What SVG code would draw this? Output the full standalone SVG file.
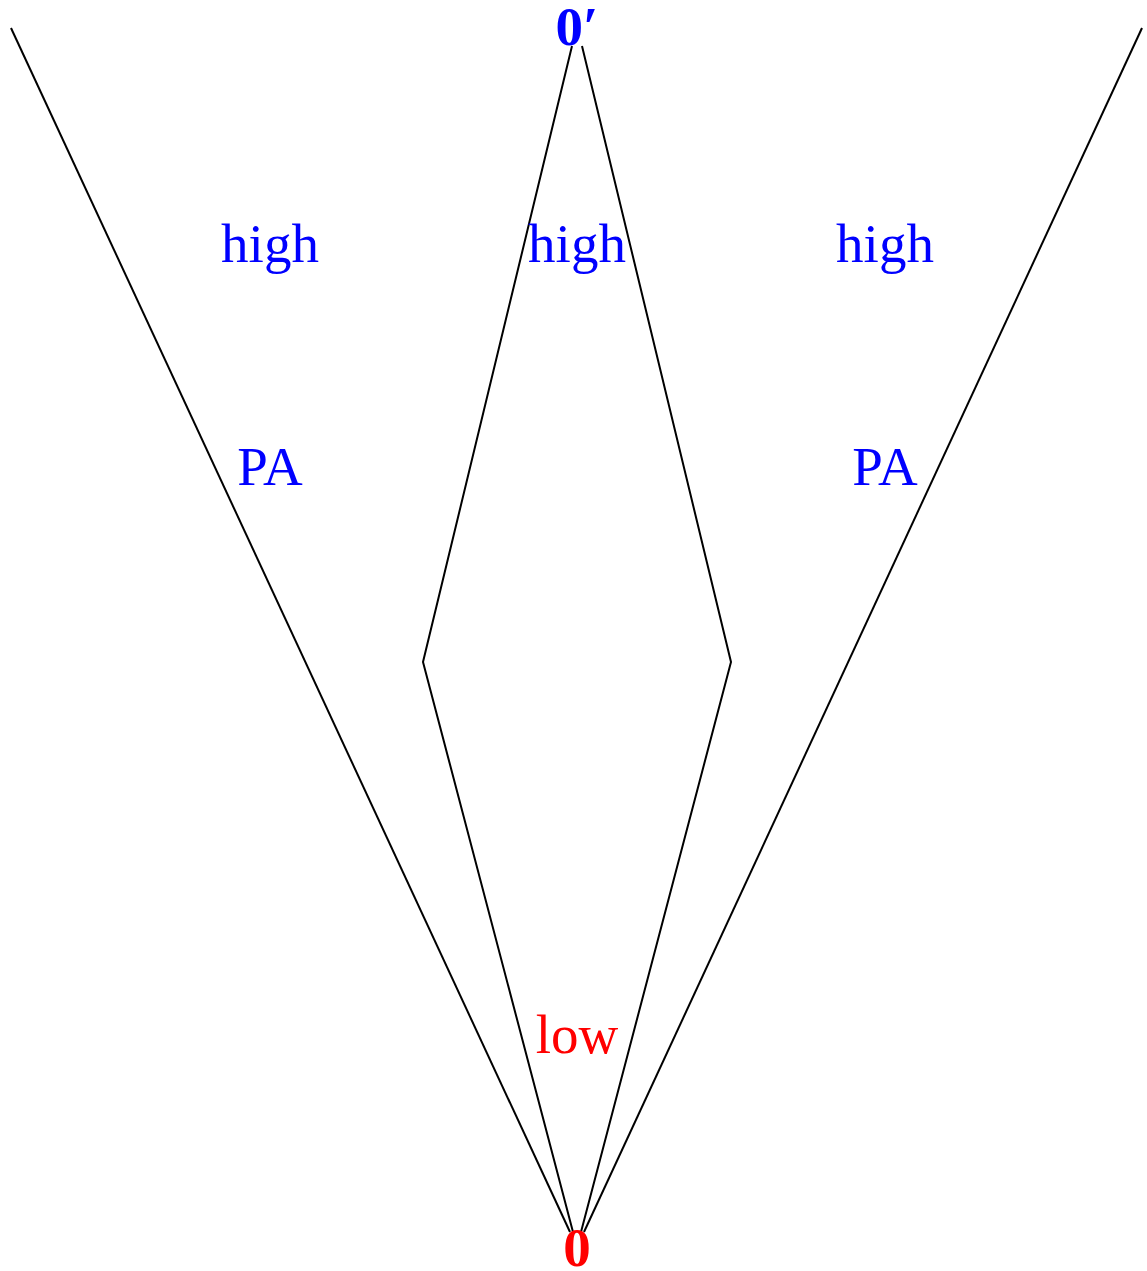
<svg xmlns="http://www.w3.org/2000/svg" width="1147" height="1271" viewBox="0 0 1147 1271">
<style>
.ln{fill:none;stroke:#000;stroke-width:2;stroke-linejoin:miter}
.t{font-family:"Liberation Serif",serif;font-size:55px;text-anchor:middle}
.b{fill:#0000ff}
.r{fill:#ff0000}
.bold{font-weight:bold}
</style>
<rect width="1147" height="1271" fill="#fff"/>
<g id="connectors">
<path class="ln" d="M11,28 L570,1232"/>
<path class="ln" d="M1142,28 L584,1232"/>
<path class="ln" d="M572,46 L423,662 L573,1232"/>
<path class="ln" d="M582,46 L731,662 L581,1232"/>
</g>
<g id="n-top"><text class="t b bold" x="577" y="45">0′</text></g>
<g id="n-bottom"><text class="t r bold" x="577" y="1266">0</text></g>
<g id="l-high1"><text class="t b" x="270" y="262">high</text></g>
<g id="l-high2"><text class="t b" x="577" y="262">high</text></g>
<g id="l-high3"><text class="t b" x="885" y="262">high</text></g>
<g id="l-pa1"><text class="t b" x="270" y="485">PA</text></g>
<g id="l-pa2"><text class="t b" x="885" y="485">PA</text></g>
<g id="l-low"><text class="t r" x="577" y="1053">low</text></g>
</svg>
